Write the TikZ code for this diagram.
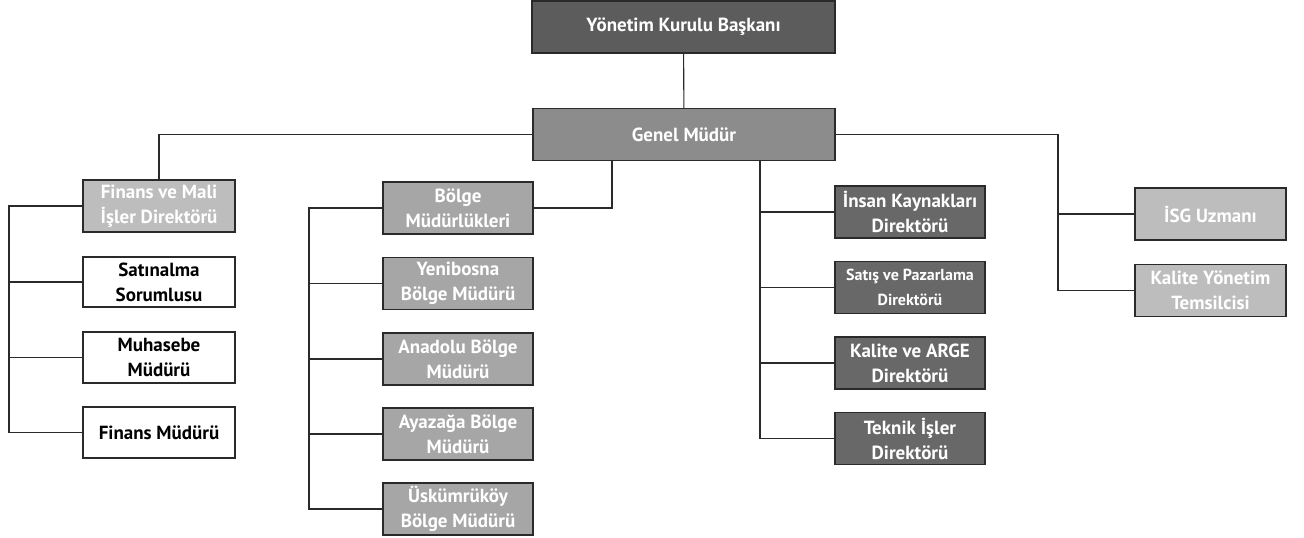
\documentclass[tikz,border=0pt]{standalone}
\usepackage{fontspec}
\setmainfont{PT Sans}
\usepackage{tikz}

\definecolor{kdark}{HTML}{5C5C5C}
\definecolor{kmid}{HTML}{8C8C8C}
\definecolor{klight}{HTML}{BDBDBD}
\definecolor{kgrey}{HTML}{A6A6A6}
\definecolor{kdeep}{HTML}{686868}
\definecolor{kline}{HTML}{2A2A2A}

\begin{document}
\begin{tikzpicture}
[x=1pt,y=-1pt]
\tikzset{box/.style={draw=kline,line width=1.3pt,inner sep=0pt,align=center,
  minimum height=52pt,font=\fontsize{19}{25}\selectfont\bfseries}}
\tikzset{wbox/.style={box,fill=white,text=black}}
\tikzset{gbox/.style={box,text=white}}
\tikzset{conn/.style={draw=kline,line width=1.1pt}}
\useasboundingbox (0,0) rectangle (1304,538);
% top
\node [gbox,fill=kdark,minimum width=303pt] (bsk) at (683.5,27) {Yönetim Kurulu Başkanı};
\node [gbox,fill=kmid,minimum width=302pt] (gm) at (684,134.5) {Genel Müdür};
% left group
\node [gbox,fill=klight,minimum width=152pt] (fmd) at (159,206) {Finans ve Mali\\İşler Direktörü};
\node [wbox,minimum width=152pt,minimum height=50pt] (sat) at (159,282) {Satınalma\\Sorumlusu};
\node [wbox,minimum width=152pt,minimum height=51pt] (muh) at (159,357.5) {Muhasebe\\Müdürü};
\node [wbox,minimum width=152pt,minimum height=51pt] (fin) at (159,432.5) {Finans Müdürü};
% middle group
\node [gbox,fill=kgrey,minimum width=150pt] (blg) at (458,208) {Bölge\\Müdürlükleri};
\node [gbox,fill=kgrey,minimum width=150pt] (yen) at (458,283.5) {Yenibosna\\Bölge Müdürü};
\node [gbox,fill=kgrey,minimum width=150pt] (ana) at (458,359) {Anadolu Bölge\\Müdürü};
\node [gbox,fill=kgrey,minimum width=150pt] (aya) at (458,434) {Ayazağa Bölge\\Müdürü};
\node [gbox,fill=kgrey,minimum width=150pt] (usk) at (458,509) {Üskümrüköy\\Bölge Müdürü};
% right-middle group
\node [gbox,fill=kdeep,minimum width=150pt] (ik) at (910,212) {İnsan Kaynakları\\Direktörü};
\node [gbox,fill=kdeep,minimum width=150pt,font=\fontsize{16}{25}\selectfont\bfseries] (spd) at (910,287.5) {Satış ve Pazarlama\\Direktörü};
\node [gbox,fill=kdeep,minimum width=150pt] (arg) at (910,363) {Kalite ve ARGE\\Direktörü};
\node [gbox,fill=kdeep,minimum width=150pt] (tek) at (910,438.5) {Teknik İşler\\Direktörü};
% right group
\node [gbox,fill=klight,minimum width=151pt] (isg) at (1210.5,214) {İSG Uzmanı};
\node [gbox,fill=klight,minimum width=151pt] (kyt) at (1210.5,290.5) {Kalite Yönetim\\Temsilcisi};

\coordinate (ls) at (9,0);
\coordinate (ms) at (309,0);
\coordinate (mj) at (612,0);
\coordinate (rs) at (760,0);
\coordinate (qs) at (1058,0);

\draw [conn] (bsk) -- (gm);
\draw [conn] (gm.west) -| (fmd.north);
\draw [conn] (gm.east) -| (kyt.west -| qs) -- (kyt.west);
\draw [conn] (gm.south -| mj) |- (blg.east);
\draw [conn] (gm.south -| rs) |- (tek.west);
\draw [conn] (fmd.west) -| (fin.west -| ls) -- (fin.west);
\draw [conn] (blg.west) -| (usk.west -| ms) -- (usk.west);
\foreach \n in {sat,muh}
	\draw [conn] (\n.west) -- (\n.west -| ls);
\foreach \n in {yen,ana,aya}
	\draw [conn] (\n.west) -- (\n.west -| ms);
\foreach \n in {ik,spd,arg}
	\draw [conn] (\n.west) -- (\n.west -| rs);
\draw [conn] (isg.west) -- (isg.west -| qs);
\end{tikzpicture}
\end{document}
